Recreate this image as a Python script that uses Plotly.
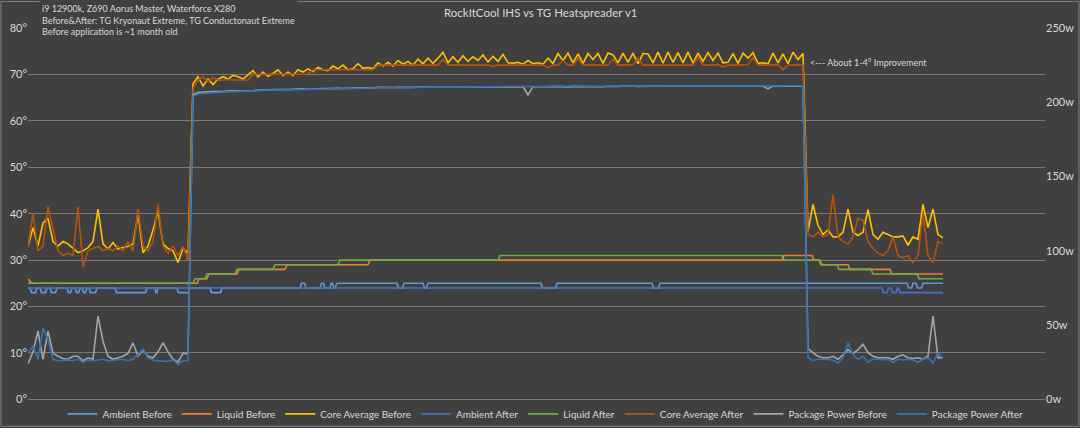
import plotly.graph_objects as go

# one reading per sample; idle -> load -> idle
core_avg_before = [
    33, 37, 33, 38, 39, 34, 33, 34, 33.5, 32.5, 31.6, 32, 32.7, 34, 41, 33.5, 32.4, 33.8, 32.4, 32.7,
    33, 33.5, 40, 31.6, 33, 36.5, 40.5, 33.5, 32.5, 32, 29.5, 32.5, 31.5,
    68, 69.5, 67.5, 69, 67.8, 69, 69.5, 69, 69.8, 69.5,
    69, 70, 70.8, 69.5, 70.5, 69.6, 70.2, 71, 69.8, 70.5,
    69.8, 71, 70.5, 71.2, 70.6, 71.5, 71, 70.8, 71.8, 71.2,
    72, 71, 71.2, 72.3, 71.3, 71.5, 71.2, 72.5, 71.8, 72.6,
    71.8, 73, 72.2, 72.8, 72, 73.3, 72.3, 73.5, 72.4, 73.5,
    74.8, 72.5, 73.8, 72.6, 74, 72.8, 73.8, 73, 74.2, 72.7,
    73.9, 72.8, 74.3, 72.5, 72.4, 72.6, 72.2, 73, 72.3, 72.5,
    72.2, 73.5, 72.4, 74.5, 73, 74.6, 72.5, 74.4, 72.4, 74.5,
    73.2, 74.5, 72.4, 74.6, 74.2, 72.5, 74.6, 72.6, 74.6, 72.3,
    74.5, 74.4, 72.5, 74.8, 72.4, 74.8, 72.6, 74.7, 72.5, 74.8,
    72.4, 74.6, 72.8, 74.7, 73, 74.6, 72.5, 72.6, 74.5, 72.4,
    74.6, 73.5, 74.7, 72.4, 72.5, 72.3, 74.6, 72.5, 74.4, 72.3,
    74.8, 73.2, 74.5,
    36.2, 42, 37.5, 35.5, 36.5, 35, 35, 36, 41, 36, 35.3, 36, 40.9, 35.5, 34.5, 36, 35.5, 35, 35, 35.2,
    33.2, 35, 34.5, 42, 37, 41, 35.5, 34.8,
]

core_avg_after = [
    33, 40, 32, 33, 41.5, 37, 32, 31, 31.5, 31, 41.5, 28.5, 32, 32.5, 33, 32, 32.5, 32, 33, 32,
    34, 32, 41, 33, 32, 34, 42, 33, 31.5, 33, 31, 33, 30,
    67, 68.8, 69.5, 68.5, 69.3, 68.8, 68.8, 68.9, 68.8, 68.8, 68.9, 68.8,
    70, 70, 70.1, 70, 70, 70.1, 70, 70, 70.1, 70, 70, 70.1,
    71, 71, 71.1, 71, 71, 71, 71.1, 71, 71, 71.1, 71, 71, 71,
    72, 72, 72.1, 72, 72, 72, 72.1, 72, 72, 72.1,
    72, 72, 72, 73.2, 72, 72, 72.1, 72, 72, 72,
    72.1, 72, 72, 71.8, 72, 72, 72, 72.1, 72, 72,
    72, 72.1, 72, 72, 71.5, 72, 72, 73, 72, 72,
    73.5, 72, 72, 72.1, 72, 72, 72, 73.2, 72, 72,
    72, 72.1, 73.5, 72, 72, 72, 72.1, 72, 72, 72,
    72, 72, 72.1, 72, 73.8, 72, 72, 72, 72.1, 71.6,
    72, 72, 72, 72, 72.1, 73.6, 72, 72, 72, 72,
    72.1, 71, 72, 72, 72.1, 72,
    35.5, 35, 36, 35, 35.5, 44, 35, 34, 33.5, 35, 39, 38.5, 34, 32.5, 31.5, 31, 32, 35, 31, 30.5,
    31, 29.4, 31, 40, 31, 29.5, 34, 33.5,
]

power_before = [
    24, 32, 46, 27, 46, 31, 29, 27.5, 27, 29, 29, 26, 28, 27, 56, 39, 29, 27, 28, 29,
    31, 38, 29, 33, 29, 28, 32, 38, 32, 27, 25, 31, 31,
    205, 206.5, 207, 207, 207.2, 207, 207.3, 207.5,
    207.5, 207.8, 207.6, 208, 207.8, 208.2, 208, 208.3, 208.5, 208.3,
    208.6, 208.5, 208.8, 208.7, 209, 208.8, 209.1, 209, 209.2, 209.3,
    209.1, 209.4, 209.3, 209.6, 209.5, 209.7, 209.6, 209.8, 209.7, 210,
    209.8, 210, 209.9, 210.1, 210, 210.2, 210, 210.3, 210.1, 210.2,
    210.3, 210.2, 210.4, 210.1, 210.3, 210.4, 210.2, 210.5, 210.3, 210.4,
    210.5, 210.3, 210.6, 210.4, 210.5, 210.3, 210.6, 210.4, 210.5, 205,
    210.5, 210.4, 210.6, 210.5, 210.7, 210.5, 210.6, 210.4, 210.7, 210.6,
    210.5, 210.8, 210.6, 210.7, 210.5, 210.8, 210.6, 210.7, 210.9, 210.6,
    210.8, 210.7, 210.9, 210.6, 210.8, 210.9, 210.7, 210.8, 211, 210.7,
    210.9, 210.8, 211, 210.8, 210.9, 211, 210.7, 210.9, 211, 210.8,
    210.9, 211, 210.8, 211, 210.9, 211.1, 210.8, 209, 211, 210.9, 211.1, 210.9, 211, 210.8, 211,
    34, 31.5, 29, 28, 28, 29, 27, 30, 33.5, 31, 33.5, 37, 31.5, 29, 28, 28, 28, 27, 29, 30,
    28, 27.5, 28, 27, 29, 56, 28, 28,
]

power_after = [
    31, 36, 27, 48, 40, 27, 26, 26.5, 26.5, 26, 27, 25, 26.5, 26, 26.5, 27, 26, 26.5, 26.5, 27,
    26, 27, 30, 34, 28, 26.5, 26, 26, 25.5, 26.5, 23.5, 26, 26,
    204, 205.5, 206, 206.3, 206.5, 206.6, 206.8, 207,
    207.1, 207.3, 207.4, 207.6, 207.7, 207.9, 208, 208.1, 208.2, 208.3,
    208.4, 208.5, 208.6, 208.6, 208.7, 208.8, 208.9, 208.9, 209, 209.1,
    209.1, 209.2, 209.3, 209.3, 209.4, 209.5, 209.5, 209.6, 209.7, 209.7,
    209.8, 209.8, 209.9, 209.9, 210, 210, 210.1, 210.1, 210.1, 210.2,
    210.2, 210.2, 210.3, 210.3, 210.3, 210.4, 210.4, 210.4, 210.4, 210.5,
    210.5, 210.5, 210.5, 210.5, 210.6, 210.6, 210.6, 210.6, 210.6, 210.6,
    210.7, 210.6, 210.7, 210.7, 210.6, 210.7, 210.8, 210.7, 210.7, 210.8,
    210.7, 210.8, 210.8, 210.7, 210.8, 210.8, 210.9, 210.8, 210.8, 210.9,
    210.8, 210.9, 210.9, 210.8, 210.9, 210.9, 211, 210.9, 210.9, 211,
    210.9, 211, 211, 210.9, 211, 211, 211, 210.9, 211, 211,
    211, 211.1, 211, 211, 211.1, 211, 211.1, 211.1, 211, 211.1, 211.1, 211, 211.1, 211.1, 211.2,
    28, 26, 27, 27, 27, 26.5, 24.5, 28, 38, 30, 27, 29, 25, 27, 27, 26.5, 27, 25, 27, 26.5,
    27, 26.5, 25, 27, 28, 24.5, 31, 28,
]

# slow-moving sensors, given at the samples where they change
liquid_before_t = [0, 0.7, 33.8, 34.2, 35.8, 36.2, 41.8, 42.2, 51.4, 51.8, 68, 68.4, 150.8, 151.2,
                   156.8, 157.2, 158.4, 158.8, 164, 164.4, 172.4, 172.8, 183]
liquid_before = [26, 25, 25, 26, 26, 27, 27, 28, 28, 29, 29, 30, 30, 31,
                 31, 30, 30, 29, 29, 28, 28, 27, 27]

liquid_after_t = [0, 33, 33.4, 35.4, 35.8, 41.4, 41.8, 49, 49.4, 62, 62.4, 94, 94.4, 150.8, 151.2,
                  158.2, 158.6, 161.8, 162.2, 168.6, 169, 177.8, 178.2, 183]
liquid_after = [25, 25, 26, 26, 27, 27, 28, 28, 29, 29, 30, 30, 31, 31, 30,
                30, 29, 29, 28, 28, 27, 27, 26, 26]

ambient_before_t = [0, 0.4, 0.7, 1.5, 1.8, 2.4, 2.7, 3.5, 3.8, 4.4, 4.7, 5.5, 5.8,
                    7.8, 8.1, 8.5, 8.8, 9.4, 9.7, 10.1, 10.4, 10.8, 11.1, 11.5, 11.8,
                    12.2, 12.5, 13.5, 13.8, 17.4, 17.7, 23.5, 23.8, 25.4, 25.6, 25.8, 26,
                    29.8, 30.1, 32.1, 32.4, 36.4, 36.7, 38.5, 38.8,
                    54.4, 54.7, 55.3, 55.6, 58.4, 58.7, 59.1, 59.4, 60.4, 60.6, 60.9, 61.2,
                    61.4, 61.8, 73.8, 74.1, 74.9, 75.2, 79, 79.3, 79.7, 80,
                    102.6, 102.9, 105.5, 105.8, 124.8, 125.1, 126.1, 126.4,
                    175.8, 176.1, 176.7, 177, 177.6, 177.9, 178.7, 179, 183]
ambient_before = [24, 24, 23, 23, 24, 24, 23, 23, 24, 24, 23, 23, 24,
                  24, 23, 23, 24, 24, 23, 23, 24, 24, 23, 23, 24,
                  24, 23, 23, 24, 24, 23, 23, 24, 24, 23, 23, 24,
                  24, 23, 23, 24, 24, 23, 23, 24,
                  24, 25, 25, 24, 24, 25, 25, 24, 24, 25, 25, 24,
                  24, 25, 25, 24, 24, 25, 25, 24, 24, 25,
                  25, 24, 24, 25, 25, 24, 24, 25,
                  25, 24, 24, 25, 25, 24, 24, 25, 25]

ambient_after_t = [0, 170.8, 171.1, 171.8, 172.1, 172.6, 172.9, 173.6, 173.9, 174.1, 174.4, 183]
ambient_after = [24, 24, 23, 23, 24, 24, 23, 23, 24, 24, 23, 23]

samples = list(range(len(core_avg_before)))

fig = go.Figure()


def add_line(x, y, name, color, axis="y"):
    fig.add_trace(go.Scatter(x=x, y=y, name=name, mode="lines", yaxis=axis,
                             line=dict(color=color, width=1.6)))


add_line(ambient_before_t, ambient_before, "Ambient Before", "#5B9BD5")
add_line(liquid_before_t, liquid_before, "Liquid Before", "#ED7D31")
add_line(samples, core_avg_before, "Core Average Before", "#FFC000")
add_line(ambient_after_t, ambient_after, "Ambient After", "#4472C4")
add_line(liquid_after_t, liquid_after, "Liquid After", "#70AD47")
add_line(samples, core_avg_after, "Core Average After", "#B4530E")
add_line(samples, power_before, "Package Power Before", "#A5A5A5", "y2")
add_line(samples, power_after, "Package Power After", "#2E75B6", "y2")

txt = "#d9d9d9"
grid = "#7a7a7a"
fig.update_layout(
    width=1080, height=428,
    margin=dict(l=28, r=35, t=28, b=28, pad=0),
    paper_bgcolor="#404040", plot_bgcolor="#404040",
    font=dict(family="Lato, 'Open Sans', sans-serif", size=11, color=txt),
    showlegend=True,
    legend=dict(orientation="h", xref="container", yref="container",
                x=0.505, xanchor="center", y=0.033, yanchor="middle",
                font=dict(size=10, color=txt), itemwidth=30, tracegroupgap=0,
                bgcolor="rgba(0,0,0,0)"),
    xaxis=dict(range=[0, 203.4], showticklabels=False, showgrid=False, zeroline=False,
               showline=True, linecolor=grid, linewidth=1, ticks="", automargin=False),
    yaxis=dict(range=[0, 80], dtick=10, ticksuffix="°", gridcolor=grid, gridwidth=1,
               zeroline=False, showline=False, automargin=False,
               tickfont=dict(size=11, color=txt)),
    yaxis2=dict(range=[0, 250], dtick=50, ticksuffix="w", overlaying="y", side="right",
                showgrid=False, zeroline=False, showline=False, automargin=False,
                tickfont=dict(size=11, color=txt)),
    annotations=[
        dict(text="RockItCool IHS vs TG Heatspreader v1", xref="paper", yref="paper",
             x=0.5044, y=1.043, xanchor="center", yanchor="middle", showarrow=False,
             font=dict(size=11.5, color=txt)),
        dict(text="i9 12900k, Z690 Aorus Master, Waterforce X280<br>"
                  "Before&amp;After: TG Kryonaut Extreme, TG Conductonaut Extreme<br>"
                  "Before application is ~1 month old",
             xref="paper", yref="paper", x=0.0108, y=1.0215, xanchor="left", yanchor="middle",
             align="left", showarrow=False, bgcolor="#404040", borderpad=2,
             font=dict(size=9, color=txt)),
        dict(text="&lt;--- About 1-4° Improvement", xref="x", yref="y", x=156, y=72.5,
             xanchor="left", yanchor="middle", showarrow=False, font=dict(size=9, color=txt)),
    ],
    shapes=[dict(type="rect", xref="paper", yref="paper", x0=-0.0266, x1=1.0334,
                 y0=-0.0726, y1=1.0712, line=dict(color="#808080", width=1))],
)

fig.write_html("out.html", config={"displayModeBar": False},
               post_script="document.body.style.margin = '0';")
